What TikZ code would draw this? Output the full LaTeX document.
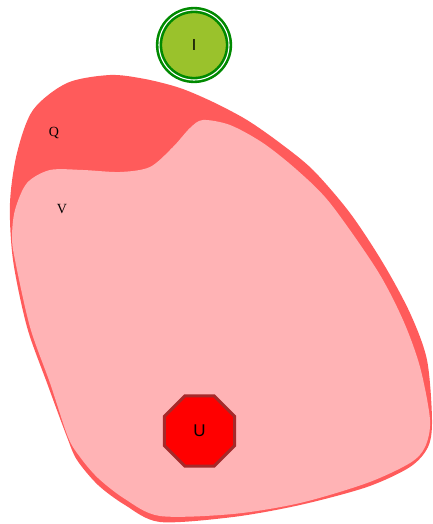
\documentclass[tikz,border=0pt]{standalone}
\usepackage{fontspec}
\setmainfont{Liberation Serif}
\setsansfont{Liberation Sans}
\usetikzlibrary{shapes.geometric}
\definecolor{qred}{HTML}{FF5B5B}
\definecolor{vpink}{HTML}{FFB3B5}
\definecolor{igreen}{HTML}{9AC22C}
\definecolor{iborder}{HTML}{008A00}
\definecolor{ubrown}{HTML}{A52A2A}
\tikzset{
  blobq/.style={fill=qred,draw=none},
  blobv/.style={fill=vpink,draw=none},
  lbl/.style={font=\fontsize{14}{16}\selectfont\rmfamily,inner sep=0pt},
  startnode/.style={circle,fill=igreen,draw=iborder,line width=2.6pt,double=white,double distance=1.1pt,minimum size=70pt,inner sep=0pt,font=\fontsize{16}{18}\selectfont\sffamily},
  endnode/.style={regular polygon,regular polygon sides=8,fill=red,draw=ubrown,line width=3pt,minimum size=76pt,inner sep=0pt,font=\fontsize{17}{19}\selectfont\sffamily}
}
\begin{document}
\begin{tikzpicture}[x=1pt,y=-1pt]
\useasboundingbox (0,0) rectangle (432,524);
% outer region Q
\fill[blobq] plot[smooth cycle,tension=0.5] coordinates {
 (110,75) (145,79) (180,88) (213,102) (247,120) (280,143) (313,170)
 (350,213) (383,263) (410,313) (427,360) (432,420) (428,447) (410,467)
 (367,487) (300,505) (233,517) (160,522) (125,505) (98,485) (77,460)
 (67,437) (47,383) (27,327) (13,260) (10,203) (17,153) (33,110) (67,83)};
% inner region V
\fill[blobv] plot[smooth cycle,tension=0.5] coordinates {
 (203,120) (230,125) (263,143) (297,170) (330,203) (377,270) (403,320)
 (420,367) (430,420) (425,447) (410,463) (367,483) (300,503) (233,514)
 (160,516) (125,499) (98,478) (80,457) (68,437) (50,383) (30,327)
 (15,260) (12,237) (15,210) (27,183) (50,170) (83,170) (120,172)
 (150,167) (173,147) (190,128)};
\node[lbl] (q) at (54,133) {Q};
\node[lbl] (v) at (62,209.5) {V};
\node[startnode] (i) at (194,45) {I};
\node[endnode] (u) at (199.5,431) {U};
\end{tikzpicture}
\end{document}
